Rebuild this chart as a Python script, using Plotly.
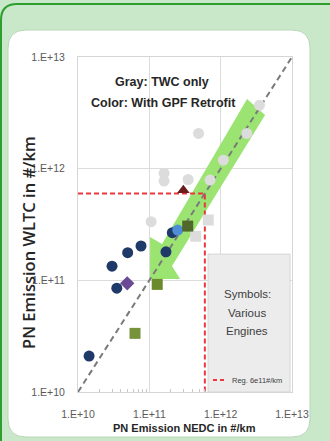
import plotly.graph_objects as go

# ---------------- data ----------------
decade_vals = [1e10, 1e11, 1e12, 1e13]
decade_labels = ["1.E+10", "1.E+11", "1.E+12", "1.E+13"]

# Gray: TWC only
gray_circle_nedc = [4.9e11, 1.61e11, 1.61e11, 3.5e11, 1.06e11, 7.1e11, 1.09e12, 2.32e12, 3.5e12]
gray_circle_wltc = [2.07e12, 9.1e11, 7.75e11, 8.0e11, 3.35e11, 7.9e11, 1.19e12, 2.07e12, 3.7e12]
gray_square_nedc = [4.47e11, 6.7e11]
gray_square_wltc = [2.48e11, 3.47e11]

# Color: with GPF retrofit
navy_nedc = [1.43e10, 3.5e10, 3.0e10, 4.97e10, 7.65e10, 1.71e11, 2.1e11]
navy_wltc = [2.1e10, 8.5e10, 1.34e11, 1.77e11, 2.03e11, 1.8e11, 2.67e11]
lightblue_nedc = [2.5e11]
lightblue_wltc = [2.82e11]
diamond_nedc = [4.9e10]
diamond_wltc = [9.4e10]
olive_nedc = [3.45e11, 1.29e11, 6.3e10]
olive_wltc = [3.06e11, 9.2e10, 3.35e10]
olive_colors = ["#50682a", "#6b8a2e", "#76923a"]
triangle_nedc = [3.0e11]
triangle_wltc = [6.4e11]

reg_limit = 6e11
axis_min, axis_max = 1e10, 1e13

symbols_lines = ["Symbols:", "Various", "Engines"]

# ------------- decoration geometry -------------
W, H = 330, 441
ML, MR, MT, MB = 78, 38, 57, 49
PW, PH = W - ML - MR, H - MT - MB


def px(xp):
    return (xp - ML) / PW


def py(yp):
    return (H - MB - yp) / PH


# green arrow outline (log10 space)
arrow_lx = [12.370, 12.623, 11.318, 11.431, 11.010, 11.010, 11.178, 12.370]
arrow_ly = [12.623, 12.480, 11.128, 11.012, 11.012, 11.388, 11.325, 12.623]

SANS = "Liberation Sans, Arial, sans-serif"

fig = go.Figure()

# arrow
fig.add_trace(go.Scatter(
    x=[10 ** v for v in arrow_lx], y=[10 ** v for v in arrow_ly],
    mode="lines", fill="toself", fillcolor="#9be472",
    line=dict(width=0, color="#9be472"), hoverinfo="skip", showlegend=False))

# 1:1 line
fig.add_trace(go.Scatter(
    x=[axis_min, axis_max], y=[axis_min, axis_max], mode="lines",
    line=dict(color="#7a7a7a", width=2, dash="6px,4px"),
    hoverinfo="skip", showlegend=False))

# regulation limit
fig.add_trace(go.Scatter(
    x=[axis_min, reg_limit, reg_limit], y=[reg_limit, reg_limit, axis_min],
    mode="lines", line=dict(color="#e8383d", width=2, dash="5px,3px"),
    hoverinfo="skip", showlegend=False))

# gray points
fig.add_trace(go.Scatter(
    x=gray_circle_nedc, y=gray_circle_wltc, mode="markers",
    marker=dict(symbol="circle", size=11, color="#dcdcdc"), showlegend=False))
fig.add_trace(go.Scatter(
    x=gray_square_nedc, y=gray_square_wltc, mode="markers",
    marker=dict(symbol="square", size=11, color="#dcdcdc"), showlegend=False))

# colored points
fig.add_trace(go.Scatter(
    x=navy_nedc, y=navy_wltc, mode="markers",
    marker=dict(symbol="circle", size=11, color="#1f3a68"), showlegend=False))
fig.add_trace(go.Scatter(
    x=lightblue_nedc, y=lightblue_wltc, mode="markers",
    marker=dict(symbol="circle", size=11, color="#4f8ed6"), showlegend=False))
fig.add_trace(go.Scatter(
    x=diamond_nedc, y=diamond_wltc, mode="markers",
    marker=dict(symbol="diamond", size=11, color="#6a4a94"), showlegend=False))
fig.add_trace(go.Scatter(
    x=olive_nedc, y=olive_wltc, mode="markers",
    marker=dict(symbol="square", size=11, color=olive_colors), showlegend=False))
fig.add_trace(go.Scatter(
    x=triangle_nedc, y=triangle_wltc, mode="markers",
    marker=dict(symbol="triangle-up", size=11, color="#6b1c1c"), showlegend=False))

# ------------- shapes -------------
shapes = []
# white rounded panel
x0, x1, yt, yb = px(8), px(310), py(30), py(437)
rx, ry = 18 / PW, 18 / PH
panel = (f"M {x0+rx},{yt} L {x1-rx},{yt} Q {x1},{yt} {x1},{yt-ry} "
         f"L {x1},{yb+ry} Q {x1},{yb} {x1-rx},{yb} L {x0+rx},{yb} "
         f"Q {x0},{yb} {x0},{yb+ry} L {x0},{yt-ry} Q {x0},{yt} {x0+rx},{yt} Z")
shapes.append(dict(type="path", path=panel, xref="paper", yref="paper",
                   fillcolor="white", line=dict(color="#b9d6b9", width=1), layer="below"))
# outer green frame
ox0, oyt = px(1), py(4)
orx, ory = 16 / PW, 16 / PH
frame = f"M {ox0},{py(445)} L {ox0},{oyt-ory} Q {ox0},{oyt} {ox0+orx},{oyt} L {px(335)},{oyt}"
shapes.append(dict(type="path", path=frame, xref="paper", yref="paper",
                   line=dict(color="#2e9f2e", width=2), layer="below"))
# gray "symbols" box
shapes.append(dict(type="rect", xref="x", yref="y",
                   x0=10 ** 11.823, x1=10 ** 12.973, y0=axis_min, y1=10 ** 11.235,
                   fillcolor="#ececec", line=dict(color="#d6d6d6", width=1), layer="above"))
# legend sample for regulation line
shapes.append(dict(type="line", xref="paper", yref="paper",
                   x0=px(213), x1=px(227), y0=py(380), y1=py(380),
                   line=dict(color="#e8383d", width=2, dash="4px,3px"), layer="above"))

annotations = [
    dict(text="<b>Gray: TWC only</b>", x=px(162), y=py(82),
         font=dict(family=SANS, size=12.5, color="#262626")),
    dict(text="<b>Color: With GPF Retrofit</b>", x=px(163), y=py(103),
         font=dict(family=SANS, size=12.5, color="#262626")),
    dict(text="Reg. 6e11#/km", x=px(230), y=py(380), xanchor="left",
         font=dict(family=SANS, size=7.5, color="#404040")),
    dict(text="<b>PN Emission NEDC in #/km</b>", x=px(184), y=py(428),
         font=dict(family=SANS, size=11, color="#262626")),
    dict(text="PN Emission WLTC in #/km", x=px(28), y=py(243), textangle=-90,
         font=dict(family="Open Sans", size=16.5, weight=600, color="#262626")),
]
for i, line in enumerate(symbols_lines):
    annotations.append(dict(text=line, x=px(247), y=py(294 + 18.5 * i),
                            font=dict(family=SANS, size=11.5, color="#404040")))
for a in annotations:
    a.setdefault("xref", "paper")
    a.setdefault("yref", "paper")
    a.setdefault("showarrow", False)
    a.setdefault("xanchor", "center")
    a.setdefault("yanchor", "middle")

minor_vals = [m * d for d in decade_vals[:-1] for m in range(2, 10)]

fig.update_layout(
    width=W, height=H, autosize=False,
    margin=dict(l=ML, r=MR, t=MT, b=MB, pad=0),
    paper_bgcolor="#c9e7c9", plot_bgcolor="white",
    shapes=shapes, annotations=annotations,
    xaxis=dict(type="log", range=[10, 13], tickvals=decade_vals, ticktext=decade_labels,
               showgrid=True, gridcolor="#dcdcdc", gridwidth=1,
               showline=True, linecolor="#d6d6d6", linewidth=1, mirror=True,
               ticks="outside", ticklen=12, tickcolor="rgba(0,0,0,0)",
               tickfont=dict(family=SANS, size=10.5, color="#5a5a5a"),
               zeroline=False,
               minor=dict(tickvals=minor_vals, ticks="inside", ticklen=3,
                          tickcolor="#c8c8c8", showgrid=False)),
    yaxis=dict(type="log", range=[10, 13], tickvals=decade_vals, ticktext=decade_labels,
               showgrid=True, gridcolor="#dcdcdc", gridwidth=1,
               showline=True, linecolor="#d6d6d6", linewidth=1, mirror=True,
               ticks="outside", ticklen=10, tickcolor="rgba(0,0,0,0)",
               tickfont=dict(family=SANS, size=10.5, color="#5a5a5a"),
               zeroline=False),
)

fig.write_html("out.html", config={"displayModeBar": False},
               post_script="document.body.style.margin='0px';document.body.style.background='#c9e7c9';")
